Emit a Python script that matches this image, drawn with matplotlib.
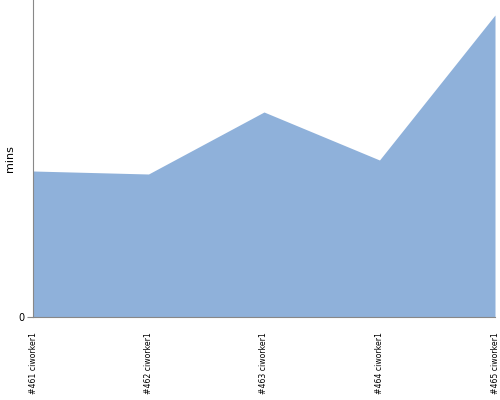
import matplotlib
matplotlib.use("Agg")
import matplotlib.pyplot as plt

# build labels and duration (mins)
builds = ['#461 ciworker1', '#462 ciworker1', '#463 ciworker1', '#464 ciworker1', '#465 ciworker1']
mins = [14.6, 14.3, 20.5, 15.7, 30.2]
y_top = 31.7

fig = plt.figure(figsize=(5, 4), dpi=100)
ax = fig.add_axes([0.066, 0.2075, 0.924, 0.7925])

x = list(range(len(builds)))
ax.fill_between(x, mins, 0, color='#8fb1da', linewidth=0)

ax.set_xlim(0, len(builds) - 1)
ax.set_ylim(0, y_top)
ax.set_xticks(x)
ax.set_xticklabels(builds, rotation=90, fontsize=5.6, va='top', ha='center')
ax.set_yticks([0])
ax.set_yticklabels(['0'], fontsize=7)
ax.set_ylabel('mins', fontsize=8)
ax.yaxis.set_label_coords(-0.038, 0.5)

for side in ['top', 'right']:
    ax.spines[side].set_visible(False)
for side in ['left', 'bottom']:
    ax.spines[side].set_color('#888888')
    ax.spines[side].set_linewidth(0.8)
ax.tick_params(axis='x', length=0, pad=11)
ax.tick_params(axis='y', length=4, color='#888888', pad=2)

fig.savefig('out.png', dpi=100)
